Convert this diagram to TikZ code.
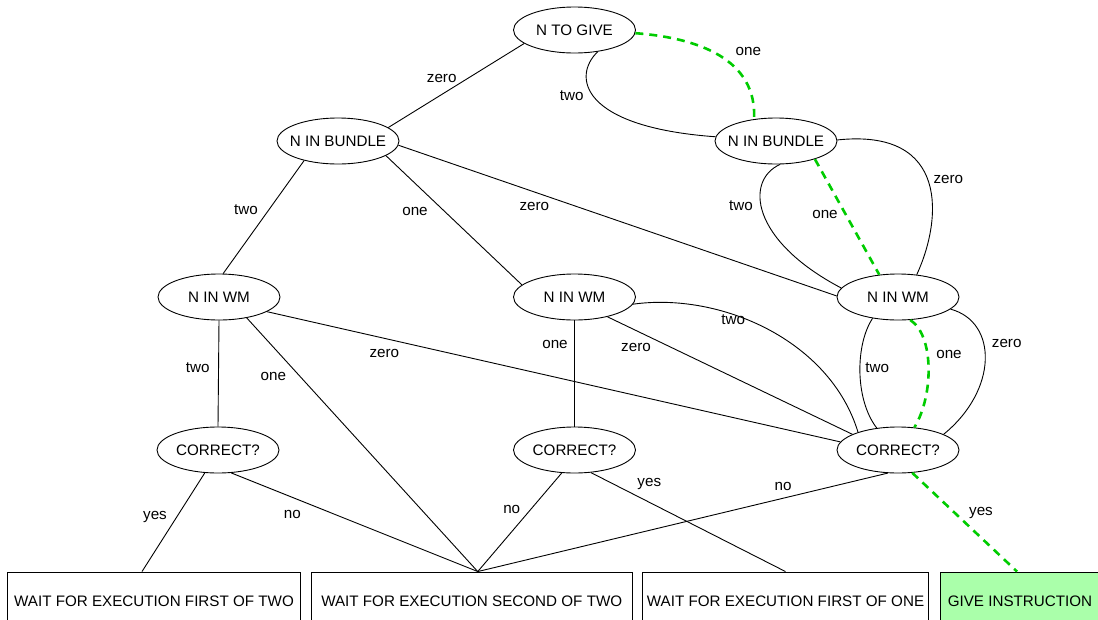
\documentclass[tikz,border=0pt]{standalone}
\usepackage{fontspec}
\setmainfont{Liberation Sans}
\usetikzlibrary{shapes.geometric}
\definecolor{pathgreen}{RGB}{0,204,0}
\definecolor{donefill}{RGB}{170,255,170}
% keep node text from widening the fixed-size shapes
\newcommand\elltext[1]{\makebox[0pt]{#1}}
\tikzset{
  txt/.style={font=\fontsize{15.2}{18}\selectfont},
  state/.style={txt, ellipse, draw, line width=0.9pt, minimum width=122pt,
    minimum height=46pt, inner sep=0pt},
  action/.style={txt, rectangle, draw, line width=0.9pt, minimum height=58pt,
    inner sep=0pt},
  link/.style={line width=0.9pt},
  chosen/.style={pathgreen, line width=2.6pt, dash pattern=on 8pt off 6pt},
  lbl/.style={txt, inner sep=0pt},
}
\begin{document}
\begin{tikzpicture}[x=1pt,y=-1pt]
\useasboundingbox (0,0) rectangle (1098,619);
\clip (0,0) rectangle (1098,619);

% decision states
\node[state] (ntg) at (574.5,30)  {\elltext{N TO GIVE}};
\node[state] (nbl) at (338,141)   {\elltext{N IN BUNDLE}};
\node[state] (nbr) at (776,141)   {\elltext{N IN BUNDLE}};
\node[state] (nwl) at (219,297)   {\elltext{N IN WM}};
\node[state] (nwm) at (574.5,297) {\elltext{N IN WM}};
\node[state] (nwr) at (898,297)   {\elltext{N IN WM}};
\node[state] (ccl) at (218,450)   {\elltext{CORRECT?}};
\node[state] (ccm) at (574.5,450) {\elltext{CORRECT?}};
\node[state] (ccr) at (898,450)   {\elltext{CORRECT?}};

% outcomes
\node[action, minimum width=293pt]   (b1) at (154,601)    {\elltext{WAIT FOR EXECUTION FIRST OF TWO}};
\node[action, minimum width=320.5pt] (b2) at (471.75,601) {\elltext{WAIT FOR EXECUTION SECOND OF TWO}};
\node[action, minimum width=286pt]   (b3) at (785.5,601)  {\elltext{WAIT FOR EXECUTION FIRST OF ONE}};
\node[action, minimum width=160pt, fill=donefill] (b4) at (1020,601) {\elltext{GIVE INSTRUCTION}};

% transitions
\draw[link] (ntg.195) -- (nbl.15);
\draw[link] (ntg.-43) .. controls (572,76) and (580,127) .. (nbr.176);
\draw[chosen] (ntg.-3) .. controls (700,38) and (757,60) .. (nbr.135);

\draw[link] (nbl.210) -- (nwl.80);
\draw[link] (nbl.-17) -- (nwm.167);
\draw[link] (nbl.-4) -- (nwr.179);

\draw[link] (nbr.-80) .. controls (745,180) and (750,240) .. (nwr.171);
\draw[chosen] (nbr.-25) -- (nwr.130);
\draw[link] (nbr.1) .. controls (950,128) and (942,220) .. (nwr.50);

\draw[link] (nwl.south) -- (ccl.north);
\draw[link] (nwl.-37) -- ([xshift=6pt]b2.north);
\draw[link] (nwl.-17) -- (ccr.172);

\draw[link] (nwm.south) -- (ccm.north);
\draw[link] (nwm.-31) -- (ccr.161);
\draw[link] (nwm.-7) .. controls (720,292) and (830,340) .. (ccr.156);

\draw[link] (nwr.220) .. controls (855,345) and (855,400) .. (ccr.134);
\draw[chosen] (nwr.-62) .. controls (934,335) and (934,395) .. (ccr.54);
\draw[link] (nwr.-13) .. controls (998,322) and (998,390) .. (ccr.19);

\draw[link] (ccl.240) -- ([xshift=-12pt]b1.north);
\draw[link] (ccl.-60) -- ([xshift=6pt]b2.north);
\draw[link] (ccm.241) -- ([xshift=6pt]b2.north);
\draw[link] (ccm.-54) -- (b3.north);
\draw[link] (ccr.246) -- ([xshift=6pt]b2.north);
\draw[chosen] (ccr.-58) -- ([xshift=-3pt]b4.north);

% transition labels
\node[lbl] (l1)  at (441.7,78.3)  {zero};
\node[lbl] (l2)  at (571.7,95.7)  {two};
\node[lbl] (l3)  at (748.3,51)    {one};
\node[lbl] (l4)  at (246,210)     {two};
\node[lbl] (l5)  at (415,211)     {one};
\node[lbl] (l6)  at (534.3,206.7) {zero};
\node[lbl] (l7)  at (741,205.5)   {two};
\node[lbl] (l8)  at (825,214.3)   {one};
\node[lbl] (l9)  at (948.3,179.3) {zero};
\node[lbl] (l10) at (197.7,367.3) {two};
\node[lbl] (l11) at (273.3,376)   {one};
\node[lbl] (l12) at (384.3,353.3) {zero};
\node[lbl] (l13) at (555,344)     {one};
\node[lbl] (l14) at (636,347.3)   {zero};
\node[lbl] (l15) at (733.3,320)   {two};
\node[lbl] (l16) at (877.3,367.3) {two};
\node[lbl] (l17) at (949,354)     {one};
\node[lbl] (l18) at (1006.7,343.3){zero};
\node[lbl] (l19) at (155,516.7)   {yes};
\node[lbl] (l20) at (292.3,514)   {no};
\node[lbl] (l21) at (511.7,509.3) {no};
\node[lbl] (l22) at (649.3,484)   {yes};
\node[lbl] (l23) at (783,486)     {no};
\node[lbl] (l24) at (981,513.3)   {yes};
\end{tikzpicture}
\end{document}
